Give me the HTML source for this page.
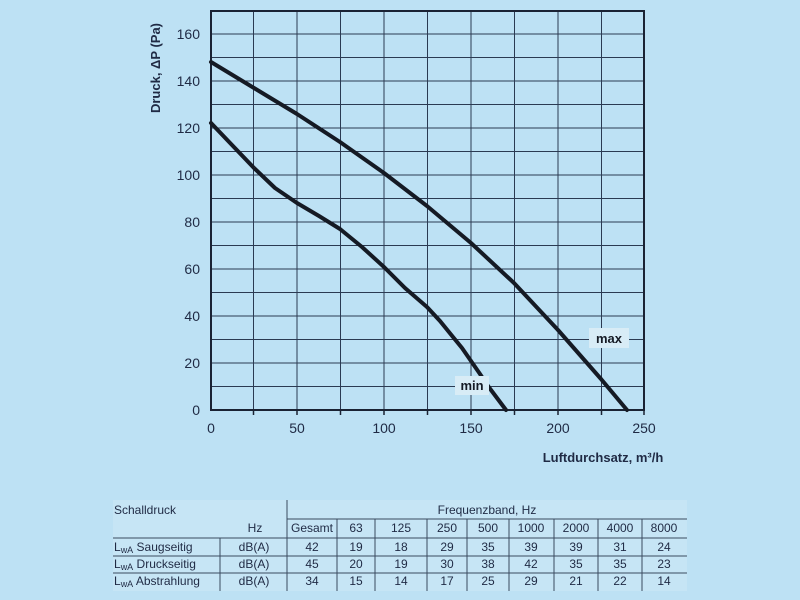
<!DOCTYPE html>
<html><head><meta charset="utf-8"><style>
body{margin:0;width:800px;height:600px;background:#bde1f4;overflow:hidden;font-family:"Liberation Sans",sans-serif}
svg{position:absolute;left:0;top:0}
</style></head><body>
<svg width="800" height="600" xmlns="http://www.w3.org/2000/svg">
<rect width="800" height="600" fill="#bde1f4"/>
<g stroke="#2b3a52" stroke-width="1">
<line x1="253.5" y1="11" x2="253.5" y2="410"/><line x1="297" y1="11" x2="297" y2="410"/>
<line x1="340.5" y1="11" x2="340.5" y2="410"/><line x1="384" y1="11" x2="384" y2="410"/>
<line x1="427.5" y1="11" x2="427.5" y2="410"/><line x1="471" y1="11" x2="471" y2="410"/>
<line x1="514.5" y1="11" x2="514.5" y2="410"/><line x1="558" y1="11" x2="558" y2="410"/>
<line x1="601.5" y1="11" x2="601.5" y2="410"/>
<line x1="210" y1="386.5" x2="645" y2="386.5"/><line x1="210" y1="363" x2="645" y2="363"/>
<line x1="210" y1="339.5" x2="645" y2="339.5"/><line x1="210" y1="316" x2="645" y2="316"/>
<line x1="210" y1="292.5" x2="645" y2="292.5"/><line x1="210" y1="269" x2="645" y2="269"/>
<line x1="210" y1="245.5" x2="645" y2="245.5"/><line x1="210" y1="222" x2="645" y2="222"/>
<line x1="210" y1="198.5" x2="645" y2="198.5"/><line x1="210" y1="175" x2="645" y2="175"/>
<line x1="210" y1="151.5" x2="645" y2="151.5"/><line x1="210" y1="128" x2="645" y2="128"/>
<line x1="210" y1="104.5" x2="645" y2="104.5"/><line x1="210" y1="81" x2="645" y2="81"/>
<line x1="210" y1="57.5" x2="645" y2="57.5"/><line x1="210" y1="34" x2="645" y2="34"/>
</g>
<rect x="211" y="11" width="433" height="399" fill="none" stroke="#1a2233" stroke-width="2"/>
<g stroke="#1a2233" stroke-width="1.5">
<line x1="253.5" y1="410" x2="253.5" y2="415"/><line x1="297" y1="410" x2="297" y2="415"/><line x1="340.5" y1="410" x2="340.5" y2="415"/><line x1="384" y1="410" x2="384" y2="415"/><line x1="427.5" y1="410" x2="427.5" y2="415"/><line x1="471" y1="410" x2="471" y2="415"/><line x1="514.5" y1="410" x2="514.5" y2="415"/><line x1="558" y1="410" x2="558" y2="415"/><line x1="601.5" y1="410" x2="601.5" y2="415"/><line x1="644" y1="410" x2="644" y2="415"/>
</g>
<g fill="none" stroke="#151a24" stroke-width="4" stroke-linejoin="round" stroke-linecap="round">
<polyline points="211,62 254,88 297,114 340,142 384,173 427,206 471,243 514,283 558,330 601,379 627,410"/>
<polyline points="211,123 232,145 254,168 275,188 297,203 319,216 340,229 362,247 384,267 405,288 427,307 440,321 453,337 462,348 471,361 480,374 488,386 497,398 506,410"/>
</g>
<rect x="589" y="328" width="40" height="20" fill="#d8ecf6"/>
<text x="609" y="343" font-size="13" font-weight="bold" fill="#151a24" text-anchor="middle">max</text>
<rect x="455" y="376" width="34" height="19" fill="#d8ecf6"/>
<text x="472" y="390" font-size="13" font-weight="bold" fill="#151a24" text-anchor="middle">min</text>
<g font-size="14" fill="#1f2a44" text-anchor="end">
<text x="200" y="415">0</text><text x="200" y="368">20</text><text x="200" y="321">40</text><text x="200" y="274">60</text><text x="200" y="227">80</text><text x="200" y="180">100</text><text x="200" y="133">120</text><text x="200" y="86">140</text><text x="200" y="39">160</text>
</g>
<g font-size="14" fill="#1f2a44" text-anchor="middle">
<text x="211" y="433">0</text><text x="297" y="433">50</text><text x="384" y="433">100</text><text x="471" y="433">150</text><text x="558" y="433">200</text><text x="644" y="433">250</text>
</g>
<text x="603" y="462" font-size="13" font-weight="bold" fill="#1f2a44" text-anchor="middle">Luftdurchsatz, m³/h</text>
<text transform="translate(160,68) rotate(-90)" font-size="13" font-weight="bold" fill="#1f2a44" text-anchor="middle">Druck, ΔP (Pa)</text>
<rect x="113" y="500" width="574" height="91" fill="#c6e5f5"/>
<g stroke="#3a4a60" stroke-width="1">
<line x1="287" y1="500" x2="287" y2="591"/>
<line x1="220" y1="538" x2="220" y2="591"/>
<line x1="337" y1="519" x2="337" y2="591"/><line x1="375" y1="519" x2="375" y2="591"/><line x1="427" y1="519" x2="427" y2="591"/><line x1="467" y1="519" x2="467" y2="591"/><line x1="509" y1="519" x2="509" y2="591"/><line x1="554" y1="519" x2="554" y2="591"/><line x1="598" y1="519" x2="598" y2="591"/><line x1="642" y1="519" x2="642" y2="591"/>
<line x1="287" y1="519" x2="687" y2="519"/>
<line x1="113" y1="538" x2="687" y2="538"/><line x1="113" y1="556" x2="687" y2="556"/><line x1="113" y1="573" x2="687" y2="573"/>
</g>
<g font-size="12" fill="#1f2a44">
<text x="114" y="514">Schalldruck</text>
<text x="487" y="514" text-anchor="middle">Frequenzband, Hz</text>
<text x="255" y="532" text-anchor="middle">Hz</text>
<text x="114" y="551">L<tspan font-size="9" dy="2">wA</tspan><tspan dy="-2"> Saugseitig</tspan></text>
<text x="114" y="568">L<tspan font-size="9" dy="2">wA</tspan><tspan dy="-2"> Druckseitig</tspan></text>
<text x="114" y="585">L<tspan font-size="9" dy="2">wA</tspan><tspan dy="-2"> Abstrahlung</tspan></text>
</g>
<g font-size="12" fill="#1f2a44" text-anchor="middle">
<text x="312" y="532">Gesamt</text><text x="356" y="532">63</text><text x="401" y="532">125</text><text x="447" y="532">250</text><text x="488" y="532">500</text><text x="531" y="532">1000</text><text x="576" y="532">2000</text><text x="620" y="532">4000</text><text x="664" y="532">8000</text>
<text x="254" y="551">dB(A)</text><text x="312" y="551">42</text><text x="356" y="551">19</text><text x="401" y="551">18</text><text x="447" y="551">29</text><text x="488" y="551">35</text><text x="531" y="551">39</text><text x="576" y="551">39</text><text x="620" y="551">31</text><text x="664" y="551">24</text>
<text x="254" y="568">dB(A)</text><text x="312" y="568">45</text><text x="356" y="568">20</text><text x="401" y="568">19</text><text x="447" y="568">30</text><text x="488" y="568">38</text><text x="531" y="568">42</text><text x="576" y="568">35</text><text x="620" y="568">35</text><text x="664" y="568">23</text>
<text x="254" y="585">dB(A)</text><text x="312" y="585">34</text><text x="356" y="585">15</text><text x="401" y="585">14</text><text x="447" y="585">17</text><text x="488" y="585">25</text><text x="531" y="585">29</text><text x="576" y="585">21</text><text x="620" y="585">22</text><text x="664" y="585">14</text>
</g>
</svg>
</body></html>
